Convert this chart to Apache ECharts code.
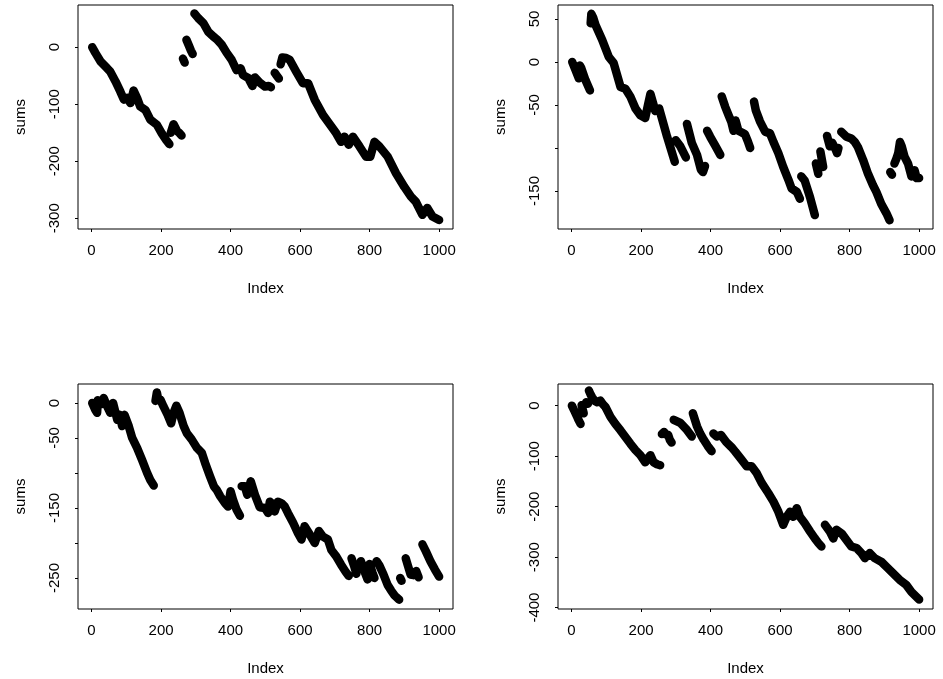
<!DOCTYPE html>
<html>
<head>
<meta charset="utf-8">
<title>sums</title>
<script src="https://cdn.jsdelivr.net/npm/echarts@6/dist/echarts.min.js"></script>
<style>
  html, body { margin: 0; padding: 0; background: #fff; }
  #chart { width: 943px; height: 679px; }
</style>
</head>
<body>
<div id="chart"></div>
<script>
// values; null marks a jump between two runs
const idx1 = [2, 11, 26, 45, 54, 69, 83, 93, 102, 112, 121, 131, 140, 155, 169, 188, 202, 215, 224, null,
  228, 236, 240, 246, 252, 259, null,
  263, 268, null,
  273, 280, 286, 291, null,
  296, 300, 307, 322, 336, 350, 360, 375, 389, 403, 417, 429, 436, 451, 463, 470, 484, 499, 510, 516, null,
  527, 533, 539, null,
  544, 549, 553, 560, 570, 589, 608, 623, 642, 666, 690, 704, 718, 728, 740, 752, 771, 790, 802, 814, 828, 852, 876, 900, 919, 933, 952, 966, 981, 1000];
const sums1 = [0, -10, -25, -37, -43, -60, -78, -92, -89, -98, -76, -89, -104, -110, -127, -136, -151, -163, -170, null,
  -150, -135, -133, -147, -150, -155, null,
  -20, -27, null,
  13, 3, -6, -12, null,
  59, 57, 51, 42, 27, 19, 14, 4, -10, -22, -40, -37, -49, -54, -68, -53, -62, -69, -68, -70, null,
  -45, -50, -55, null,
  -30, -18, -16, -19, -22, -43, -63, -63, -92, -119, -139, -151, -166, -157, -171, -157, -174, -192, -192, -166, -174, -192, -221, -245, -262, -271, -294, -282, -297, -303];

const idx2 = [2, 11, 21, null, 24, 28, 40, 53, null,
  55, 57, 62, 69, 88, 107, 121, 141, 155, 169, 184, 198, 212, 220, 227, 234, 241, 252, 275, 297, null,
  300, 313, 329, null, 332, 346, 361, 372, 378, 384, null, 390, 399, 413, 428, null,
  432, 442, 452, 460, 466, 472, 480, 490, 499, 507, 514, null,
  525, 530, 542, 557, 571, 581, 595, 609, 624, 633, 648, 657, null,
  661, 671, 686, 700, null, 703, 710, null, 716, 724, null, 735, 743, 750, 758, 764, 768, null,
  776, 781, 791, 805, 815, 824, 839, 853, 867, 877, 891, 906, 915, null, 917, 922, null,
  929, 935, 940, 945, 950, 958, 968, 978, 987, 993, 1000];
const sums2 = [0, -9, -19, null, -4, -7, -21, -33, null,
  45, 56, 52, 43, 26, 6, -1, -29, -31, -40, -54, -62, -65, -50, -37, -47, -57, -54, -87, -116, null,
  -91, -98, -111, null, -72, -94, -108, -125, -128, -121, null, -80, -87, -97, -108, null,
  -40, -52, -62, -70, -80, -68, -80, -82, -84, -92, -100, null,
  -46, -56, -69, -81, -83, -93, -106, -122, -137, -147, -151, -159, null,
  -133, -138, -157, -178, null, -118, -130, null, -104, -122, null, -86, -98, -94, -100, -106, -100, null,
  -81, -82, -87, -89, -93, -99, -114, -130, -143, -151, -165, -176, -184, null, -128, -131, null,
  -118, -112, -106, -93, -98, -110, -118, -133, -126, -135, -135];

const idx3 = [2, 11, 16, 18, 26, 35, 45, 54, 62, 69, 74, 81, 88, 95, 107, 117, 131, 145, 160, 169, 179, null,
  184, 188, 192, 198, 207, 219, 229, 236, 244, 253, 265, 274, 288, 303, 317, 327, 341, 352, 360, 370, 384, 393, 400, 407, 417, 427, null,
  432, 441, 448, 458, 470, 484, 499, 508, 513, 522, 527, 536, 546, 556, 565, 580, 594, 604, 613, 628, 642, 654, 666, 680, 690, 704, 718, 731, 740, null,
  748, 755, 762, null, 775, 785, 794, null, 800, 808, 814, null,
  820, 828, 840, 852, 862, 872, 885, null, 888, 892, null,
  904, 910, 918, 927, 934, 941, null, 952, 962, 975, 988, 1000];
const sums3 = [0, -10, -14, 4, -2, 7, -5, -14, 0, -14, -24, -17, -33, -17, -33, -50, -64, -81, -100, -110, -118, null,
  3, 15, 5, 5, -5, -17, -29, -14, -4, -14, -33, -43, -52, -64, -71, -86, -105, -119, -124, -133, -143, -148, -126, -138, -152, -161, null,
  -119, -119, -131, -112, -131, -149, -150, -157, -141, -145, -155, -141, -143, -148, -157, -171, -186, -195, -176, -188, -200, -183, -191, -195, -210, -219, -231, -241, -247, null,
  -222, -232, -244, null, -226, -240, -252, null, -230, -242, -250, null,
  -226, -232, -245, -260, -268, -275, -281, null, -250, -254, null,
  -222, -232, -245, -246, -240, -249, null, -202, -212, -226, -238, -248];

const idx4 = [1, 8, 15, 20, 26, null, 29, 35, null, 42, 47, null,
  50, 55, 59, 66, 74, 83, 90, 98, 112, 126, 141, 155, 169, 184, 198, 212, 220, 227, 236, 246, 255, null,
  260, 266, 272, 278, 283, 288, null, 294, 313, 332, 346, null, 349, 361, 370, 380, 392, 403, null,
  408, 418, 430, 445, 460, 471, 488, 504, 518, 533, 547, 566, 581, 595, 609, 619, 629, 638, 648, 657, 671, 686, 700, 710, 719, null,
  729, 743, 753, 762, 777, 791, 805, 820, 834, 844, 858, 872, 891, 906, 925, 944, 963, 978, 1000];
const sums4 = [0, -10, -20, -28, -36, null, 1, -15, null, 7, 4, null,
  30, 22, 17, 10, 7, 10, 3, -3, -22, -36, -49, -62, -75, -88, -98, -112, -104, -98, -112, -116, -118, null,
  -56, -52, -57, -58, -68, -73, null, -28, -34, -48, -61, null, -15, -41, -55, -67, -80, -90, null,
  -55, -61, -58, -72, -82, -91, -106, -120, -120, -134, -153, -173, -190, -210, -236, -220, -210, -220, -203, -220, -233, -249, -263, -272, -279, null,
  -236, -249, -263, -246, -253, -266, -279, -282, -292, -302, -292, -302, -309, -319, -332, -345, -355, -369, -384];

const xTicks = [0, 200, 400, 600, 800, 1000];
const yTicks1 = [-300, -200, -100, 0];
const yLabels1 = [-300, -200, -100, 0];
const yTicks2 = [-150, -100, -50, 0, 50];
const yLabels2 = [-150, -50, 0, 50];
const yTicks3 = [-250, -200, -150, -100, -50, 0];
const yLabels3 = [-250, -150, -50, 0];
const yTicks4 = [-400, -300, -200, -100, 0];
const yLabels4 = [-400, -300, -200, -100, 0];

const font = "'Liberation Sans', Arial, sans-serif";
const fontSize = 15;

// plot regions, same layout as par(mfrow = c(2, 2))
const panels = [
  { idx: idx1, sums: sums1, left: 78, top: 5, height: 224, yMin: -318.8, yMax: 74, ticks: yTicks1, labels: yLabels1 },
  { idx: idx2, sums: sums2, left: 558, top: 5, height: 224, yMin: -194.2, yMax: 66.3, ticks: yTicks2, labels: yLabels2 },
  { idx: idx3, sums: sums3, left: 78, top: 384, height: 225, yMin: -294.3, yMax: 27.1, ticks: yTicks3, labels: yLabels3 },
  { idx: idx4, sums: sums4, left: 558, top: 384, height: 225, yMin: -402.8, yMax: 43, ticks: yTicks4, labels: yLabels4 }
];

function toPairs(idx, sums) {
  return idx.map((x, i) => (sums[i] === null ? ['-', '-'] : [x, sums[i]]));
}

const plain = (v) => String(v);

const grid = [], xAxis = [], yAxis = [], series = [];
panels.forEach((p, i) => {
  grid.push({
    left: p.left, top: p.top, width: 375, height: p.height,
    show: true, borderColor: "#000", borderWidth: 1, backgroundColor: "transparent"
  });
  xAxis.push({
    type: "value", gridIndex: i, min: -38.96, max: 1039.96,
    name: "Index", nameLocation: "middle", nameGap: 52,
    nameTextStyle: { color: "#000", fontFamily: font, fontSize: fontSize },
    axisLine: { show: false, onZero: false },
    splitLine: { show: false },
    axisTick: { show: true, length: 3, customValues: xTicks, lineStyle: { color: "#000" } },
    axisLabel: { customValues: xTicks, formatter: plain, margin: 14, color: "#000", fontFamily: font, fontSize: fontSize }
  });
  yAxis.push({
    type: "value", gridIndex: i, min: p.yMin, max: p.yMax,
    name: "sums", nameLocation: "middle", nameGap: 50,
    nameTextStyle: { color: "#000", fontFamily: font, fontSize: fontSize },
    axisLine: { show: false, onZero: false },
    splitLine: { show: false },
    axisTick: { show: true, length: 3, customValues: p.ticks, lineStyle: { color: "#000" } },
    axisLabel: { customValues: p.labels, formatter: plain, rotate: 90, margin: 16, color: "#000", fontFamily: font, fontSize: fontSize }
  });
  series.push({
    type: "line", xAxisIndex: i, yAxisIndex: i,
    data: toPairs(p.idx, p.sums),
    showSymbol: false, connectNulls: false,
    lineStyle: { color: "#000", width: 8.5, cap: "round", join: "round" }
  });
});

const chart = echarts.init(document.getElementById("chart"), null, { renderer: "canvas" });
chart.setOption({
  animation: false,
  backgroundColor: "#fff",
  grid: grid,
  xAxis: xAxis,
  yAxis: yAxis,
  series: series
});
</script>
</body>
</html>
